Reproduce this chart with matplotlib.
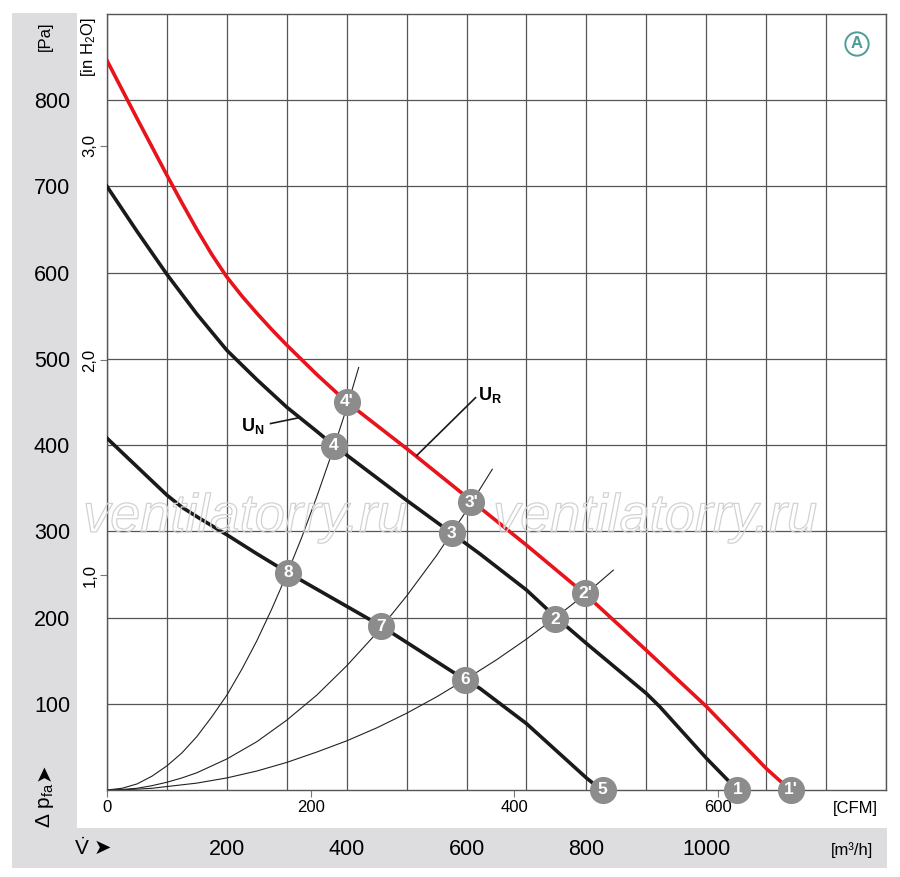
import matplotlib
matplotlib.use('Agg')
import matplotlib.pyplot as plt
import matplotlib.patheffects as pe
from matplotlib.patches import Rectangle
from matplotlib.ticker import MultipleLocator

# flow in m3/h, pressure in Pa
ur_flow = [0, 50, 100, 125, 150, 175, 200, 225, 250, 275, 300, 350, 400, 500, 600, 700, 800, 900,
           1000, 1100, 1140]
ur_pa = [846, 779, 713, 681, 650, 621, 595, 573, 553, 534, 516, 482, 450, 396, 340, 284, 226, 162,
         97, 25, 0]

un_flow = [0, 50, 100, 150, 200, 250, 300, 350, 378, 500, 575, 622, 700, 748, 800, 900, 922, 1000, 1052]
un_pa = [700, 648, 598, 552, 510, 476, 444, 416, 400, 336, 298, 274, 232, 201, 170, 112, 97, 37, 0]

low_flow = [0, 50, 100, 125, 150, 200, 250, 302, 458, 597, 622, 700, 800, 825]
low_pa = [408, 375, 342, 328, 317, 296, 274, 252, 190, 128, 118, 77, 14, 0]

# system curves through the operating points
sys_a_flow = [0, 25, 50, 75, 100, 125, 150, 175, 200, 225, 250, 275, 300, 325, 350, 375, 400, 420]
sys_a_pa = [0, 2, 7, 16, 28, 43, 62, 85, 110, 140, 173, 210, 250, 293, 340, 390, 443, 490]
sys_b_flow = [0, 25, 50, 75, 100, 125, 150, 200, 250, 300, 350, 400, 450, 500, 550, 600, 643]
sys_b_pa = [0, 0.6, 2, 5, 9, 14, 20, 36, 56, 81, 110, 144, 182, 225, 272, 324, 372]
sys_c_flow = [0, 25, 50, 75, 100, 150, 200, 250, 300, 350, 400, 450, 500, 550, 600, 650, 700, 750,
              800, 845]
sys_c_pa = [0, 0.2, 1, 2, 4, 8, 14, 22, 32, 44, 57, 72, 89, 108, 129, 151, 175, 201, 228, 255]

point_labels = ['1', "1'", '2', "2'", '3', "3'", '4', "4'", '5', '6', '7', '8']
point_flow = [1052, 1141, 748, 798, 575, 608, 378, 400, 827, 597, 458, 302]
point_pa = [0, 0, 198, 228, 298, 334, 399, 450, 0, 128, 190, 252]

pa_ticks = [100, 200, 300, 400, 500, 600, 700, 800]
m3h_ticks = [200, 400, 600, 800, 1000]
cfm_ticks = [0, 200, 400, 600]
inh2o_ticks = [1, 2, 3]
inh2o_labels = ['1,0', '2,0', '3,0']

PA_PER_INH2O = 249.09
M3H_PER_CFM = 1.699

NARROW = ['Liberation Sans Narrow', 'Liberation Sans', 'DejaVu Sans']
REG = ['Liberation Sans', 'DejaVu Sans']
ARROW = ['DejaVu Sans']
plt.rcParams['font.family'] = NARROW
plt.rcParams['mathtext.fontset'] = 'custom'
plt.rcParams['mathtext.rm'] = 'Liberation Sans'
plt.rcParams['mathtext.it'] = 'Liberation Sans'
plt.rcParams['mathtext.bf'] = 'Liberation Sans:bold'

W, H = 900, 877


def fpos(x, y):
    return x / W, 1 - y / H


fig = plt.figure(figsize=(9, 8.77), dpi=100)

# grey bands (behind the axes so tick labels stay visible)
fig.patches.append(Rectangle(fpos(12, 828), 65 / W, 815 / H, transform=fig.transFigure,
                             facecolor='#dddddf', edgecolor='none', zorder=-1))
fig.patches.append(Rectangle(fpos(12, 868), 875 / W, 40 / H, transform=fig.transFigure,
                             facecolor='#dddddf', edgecolor='none', zorder=-1))

ax = fig.add_axes([107 / W, 1 - 790 / H, 779 / W, 776 / H])
ax.set_xlim(0, 1300)
ax.set_ylim(0, 900)
ax.set_facecolor('white')

ax.set_xticks(m3h_ticks)
ax.xaxis.set_minor_locator(MultipleLocator(100))
ax.set_yticks(pa_ticks)
ax.grid(True, which='both', color='#555555', lw=0.9, zorder=1)
ax.tick_params(axis='x', which='both', length=0, pad=35, labelsize=15.5)
ax.tick_params(axis='y', which='both', length=0, pad=26.5, labelsize=15.5)
for lab in ax.get_xticklabels() + ax.get_yticklabels():
    lab.set_family(REG)
for s in ax.spines.values():
    s.set_color('#555555')
    s.set_linewidth(1)

# thin system curves
for fx, fy in [(sys_a_flow, sys_a_pa), (sys_b_flow, sys_b_pa), (sys_c_flow, sys_c_pa)]:
    ax.plot(fx, fy, color='#222222', lw=0.8, zorder=2)

ax.plot(low_flow, low_pa, color='#1a1a1a', lw=2.6, zorder=3, solid_joinstyle='round')
ax.plot(un_flow, un_pa, color='#1a1a1a', lw=2.6, zorder=3, solid_joinstyle='round')
ax.plot(ur_flow, ur_pa, color='#e8141c', lw=2.6, zorder=3, solid_joinstyle='round')

for lab, fx, fy in zip(point_labels, point_flow, point_pa):
    ax.plot(fx, fy, 'o', ms=18.5, color='#8c8c8d', mec='#8c8c8d', zorder=5, clip_on=False)
    ax.text(fx, fy, lab, ha='center', va='center', color='white', fontsize=12.5,
            fontweight='bold', zorder=6, clip_on=False)

# U_N / U_R labels with leaders
ax.plot([273, 322], [425, 432], color='#1a1a1a', lw=1.2, zorder=3)
ax.text(243, 422, r'U$_{\mathbf{N}}$', fontsize=13, fontweight='bold', ha='center', va='center')
ax.plot([517, 615], [388, 455], color='#1a1a1a', lw=1.2, zorder=3)
ax.text(640, 458, r'U$_{\mathbf{R}}$', fontsize=13, fontweight='bold', ha='center', va='center')

# inch of water axis
sec_y = ax.secondary_yaxis('left', functions=(lambda p: p / PA_PER_INH2O, lambda h: h * PA_PER_INH2O))
sec_y.set_yticks(inh2o_ticks)
sec_y.set_yticklabels(inh2o_labels, rotation=90, va='center')
sec_y.tick_params(length=5, width=0.8, color='#777777', pad=2, labelsize=12)
sec_y.spines['left'].set_visible(False)

# CFM axis
sec_x = ax.secondary_xaxis('bottom', functions=(lambda m: m / M3H_PER_CFM, lambda c: c * M3H_PER_CFM))
sec_x.set_xticks(cfm_ticks)
sec_x.tick_params(length=5, width=0.8, color='#777777', pad=2, labelsize=12)
sec_x.spines['bottom'].set_visible(False)

# axis captions
fig.text(*fpos(88, 47), r'[in H$_2$O]', rotation=90, ha='center', va='center', fontsize=12)
fig.text(*fpos(45, 36), '[Pa]', rotation=90, ha='center', va='center', fontsize=12)
fig.text(*fpos(45, 805), r'$\Delta$ p$_{\rm fa}$', rotation=90, ha='center', va='center', fontsize=15)
fig.text(*fpos(44, 772), '➤', rotation=90, ha='center', va='center', fontsize=15, family=ARROW)
fig.text(*fpos(82, 848), r'$\dot{\rm V}$', ha='center', va='center', fontsize=15)
fig.text(*fpos(102, 848), '➤', ha='center', va='center', fontsize=15, family=ARROW)
fig.text(*fpos(855, 808), '[CFM]', ha='center', va='center', fontsize=12)
fig.text(*fpos(852, 850), '[m³/h]', ha='center', va='center', fontsize=12)

# badge
fig.text(*fpos(857, 44), 'A', ha='center', va='center', fontsize=12, fontweight='bold',
         color='#4e9c96',
         bbox=dict(boxstyle='circle,pad=0.25', fc='white', ec='#4e9c96', lw=1.4))

# watermark
for x in (245, 655):
    fig.text(*fpos(x, 518), 'ventilatorry.ru', ha='center', va='center', fontsize=39,
             family=REG, style='italic', color=(1, 1, 1, 0), zorder=10,
             path_effects=[pe.withStroke(linewidth=0.9, foreground='#d2d2d2')])

fig.savefig('out.png', dpi=100, facecolor='white')
